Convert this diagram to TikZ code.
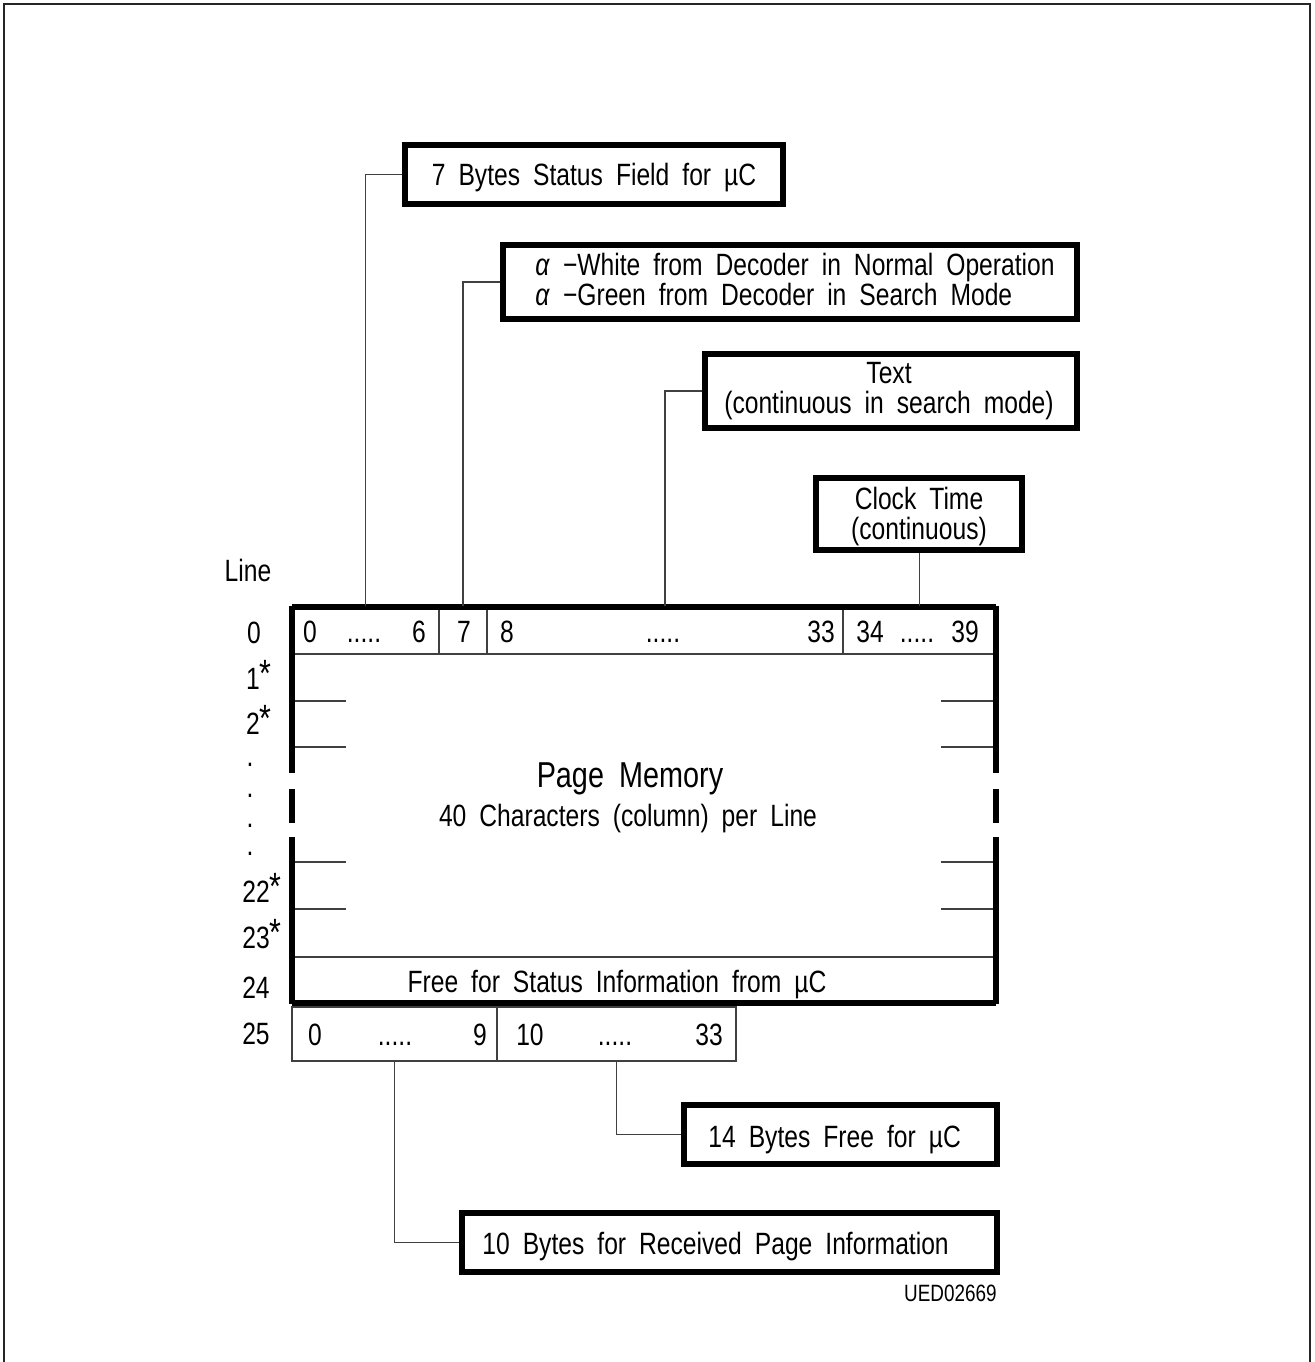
\documentclass[tikz,border=0pt]{standalone}
\usepackage{fontspec}
\setmainfont{Liberation Sans}[FakeStretch=0.8, WordSpace=1.9]
\newcommand{\bigstar}{\raisebox{0.15ex}{\fontsize{19}{19}\selectfont *}}
\begin{document}
\begin{tikzpicture}[x=0.5pt,y=-0.5pt,
  thinline/.style={draw=black!75, line width=0.8pt},
  thickline/.style={draw=black, line width=2.6pt},
  box/.style={draw=black, line width=2.6pt, inner sep=0pt},
  cell/.style={draw=black!75, line width=0.8pt, inner sep=0pt},
  txt/.style={inner sep=0pt, font=\fontsize{15.4}{15}\selectfont, text height=11pt, text depth=0pt},
  mltxt/.style={inner sep=0pt, font=\fontsize{15.4}{15}\selectfont},
  dotlabel/.style={inner sep=0pt, font=\fontsize{15.4}{15}\selectfont},
  big/.style={inner sep=0pt, font=\fontsize{18}{18}\selectfont, text height=13pt, text depth=0pt},
  small/.style={inner sep=0pt, font=\fontsize{11.8}{12}\selectfont, text height=8.5pt, text depth=0pt},
  conn/.style={draw=black!75, line width=0.8pt}]
\useasboundingbox (0,0) rectangle (1314,1362);
% outer frame
\draw[line width=1pt, draw=black!85] (4,1362) -- (4,4) -- (1310,4) -- (1310,1362);

% boxes
\node[box, minimum width=189pt, minimum height=29.5pt, txt] (b1) at (594,174.5) {7 Bytes Status Field for µC};
\node[box, minimum width=287pt, minimum height=37pt] (b2) at (790,282) {};
\node[mltxt, align=left] (t2) at (795,279)
  {\textit{α} −White from Decoder in Normal Operation\\\textit{α} −Green from Decoder in Search Mode};
\node[box, minimum width=186pt, minimum height=37pt] (b3) at (891,391) {};
\node[mltxt, align=center] (t3) at (889,391) {Text\\(continuous in search mode)};
\node[box, minimum width=103pt, minimum height=36pt] (b4) at (919,514) {};
\node[mltxt, align=center] (t4) at (919,517) {Clock Time\\(continuous)};
\node[box, minimum width=156.5pt, minimum height=29.5pt] (b5) at (840.5,1134.5) {};
\node[txt, anchor=west] (t5) at (708,1136) {14 Bytes Free for µC};
\node[box, minimum width=267.5pt, minimum height=29.5pt] (b6) at (729.5,1242.5) {};
\node[txt, anchor=west] (t6) at (482,1243) {10 Bytes for Received Page Information};

% row 0 cells
\node[cell, minimum width=73.5pt, minimum height=23.5pt] (c06) at (365.5,630.5) {};
\node[cell, minimum width=24pt, minimum height=23.5pt] (c7) at (463,630.5) {};
\node[cell, minimum width=178pt, minimum height=23.5pt] (c833) at (665,630.5) {};
\node[cell, minimum width=76.5pt, minimum height=23.5pt] (c3439) at (919.5,630.5) {};
% row 25 cells
\node[cell, minimum width=102.5pt, minimum height=27pt] (r09) at (394.5,1034) {};
\node[cell, minimum width=119.5pt, minimum height=27pt] (r1033) at (616.5,1034) {};

% thin inner lines
\draw[thinline] (292,957) -- (996,957);
\foreach \yy in {701,747,862,909} {
  \draw[thinline] (292,\yy) -- (346,\yy);
  \draw[thinline] (941,\yy) -- (996,\yy);
}
% thick border of page memory
\draw[thickline] (292,607) -- (996,607);
\draw[thickline] (292,1003) -- (996,1003);
\draw[thickline] (292,605.7) -- (292,773) (292,789) -- (292,823) (292,837) -- (292,1004.3);
\draw[thickline] (996,605.7) -- (996,773) (996,789) -- (996,823) (996,837) -- (996,1004.3);

% connectors
\draw[conn] (c06.north) |- (b1.west);
\draw[conn] (c7.north) |- (b2.west);
\draw[conn] (c833.north) |- (b3.west);
\draw[conn] (c3439.north) -- (c3439.north |- b4.south);
\draw[conn] (r09.south) |- (b6.west);
\draw[conn] (r1033.south) |- (b5.west);

% row 0 texts
\node[txt] (n0) at (310,631) {0};
\node[txt] (d0) at (364,631) {.....};
\node[txt] (n6) at (419,631) {6};
\node[txt] (n7) at (464,631) {7};
\node[txt] (n8) at (507,631) {8};
\node[txt] (d8) at (663,631) {.....};
\node[txt] (n33) at (821,631) {33};
\node[txt] (n34) at (870,631) {34};
\node[txt] (d34) at (917,631) {.....};
\node[txt] (n39) at (965,631) {39};
% row 25 texts
\node[txt] (m0) at (315,1034) {0};
\node[txt] (e0) at (395,1034) {.....};
\node[txt] (m9) at (480,1034) {9};
\node[txt] (m10) at (530,1034) {10};
\node[txt] (e10) at (615,1034) {.....};
\node[txt] (m33) at (709,1034) {33};

% central texts
\node[big] (pm) at (630,774) {Page Memory};
\node[txt] (pm2) at (628,815) {40 Characters (column) per Line};
\node[txt] (fs) at (617,981) {Free for Status Information from µC};

% line labels
\node[txt] (lline) at (248,570) {Line};
\node[txt] (l0) at (254,632) {0};
\node[txt] (l1) at (259,678) {1\bigstar};
\node[txt] (l2) at (259,723) {2\bigstar};
\node[dotlabel] (ld1) at (250,765) {.};
\node[dotlabel] (ld2) at (250,796) {.};
\node[dotlabel] (ld3) at (250,826) {.};
\node[dotlabel] (ld4) at (250,854) {.};
\node[txt] (l22) at (262,891) {22\bigstar};
\node[txt] (l23) at (262,937) {23\bigstar};
\node[txt] (l24) at (256,987) {24};
\node[txt] (l25) at (256,1033) {25};

% code
\node[small, anchor=east] (code) at (997,1293) {UED02669};
\end{tikzpicture}
\end{document}
